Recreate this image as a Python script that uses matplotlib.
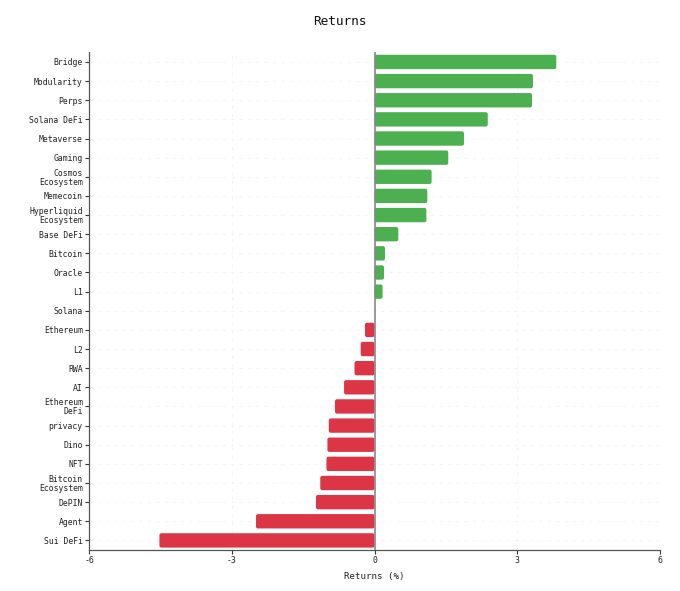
import matplotlib
matplotlib.use("Agg")
import matplotlib.pyplot as plt
from matplotlib.patches import FancyBboxPatch
import numpy as np

categories = ["Bridge", "Modularity", "Perps", "Solana DeFi", "Metaverse", "Gaming",
              "Cosmos\nEcosystem", "Memecoin", "Hyperliquid\nEcosystem", "Base DeFi",
              "Bitcoin", "Oracle", "L1", "Solana", "Ethereum", "L2", "RWA", "AI",
              "Ethereum\nDeFi", "privacy", "Dino", "NFT", "Bitcoin\nEcosystem", "DePIN",
              "Agent", "Sui DeFi"]
returns = [3.82, 3.33, 3.31, 2.38, 1.88, 1.55, 1.20, 1.11, 1.09, 0.50, 0.22, 0.20, 0.17,
           0.0, -0.20, -0.29, -0.42, -0.64, -0.83, -0.96, -0.99, -1.01, -1.14, -1.23,
           -2.49, -4.52]
x_ticks = [-6, -3, 0, 3, 6]

GREEN = "#4caf50"
RED = "#dc3545"

plt.rcParams['font.family'] = ['DejaVu Sans Mono']

fig = plt.figure(figsize=(6.8, 5.91), dpi=100)
ax = fig.add_axes([0.1309, 0.0694, 0.8397, 0.8426])

y = np.arange(len(categories))
colors = [GREEN if v >= 0 else RED for v in returns]
bars = ax.barh(y, returns, height=0.75, color=colors, zorder=3)

ax.set_ylim(len(categories) - 0.5, -0.52)
ax.set_xlim(-6, 6)

# replace bars with rounded versions (geometry from the bar patches)
fig.canvas.draw()
bb = ax.get_window_extent()
x_per_px = 12.0 / bb.width
y_per_px = (len(categories) - 0.5 + 0.52) / bb.height
for b in bars:
    x0, y0 = b.get_x(), b.get_y()
    w, h = b.get_width(), b.get_height()
    if w == 0:
        b.remove()
        continue
    if w < 0:
        x0, w = x0 + w, -w
    r = min(2.0 * x_per_px, w / 2)
    p = FancyBboxPatch((x0, y0), w, h,
                       boxstyle=f"round,pad=0,rounding_size={r}",
                       mutation_aspect=y_per_px / x_per_px,
                       facecolor=b.get_facecolor(), edgecolor="none", zorder=3)
    b.remove()
    ax.add_patch(p)

ax.set_yticks(y)
ax.set_yticklabels(categories, fontsize=5.9, linespacing=1.0, color="#222222")
ax.set_xticks(x_ticks)
ax.set_xticklabels([str(t) for t in x_ticks], fontsize=5.9, color="#222222")
ax.tick_params(axis='both', length=3, width=0.8, color="#333333", pad=1.5)

ax.axvline(0, color="#888888", lw=1.2, zorder=4)
ax.grid(True, color="#f1f1f1", lw=0.6, ls=(0, (4, 6)), zorder=0)
for s in ["top", "right"]:
    ax.spines[s].set_visible(False)
for s in ["left", "bottom"]:
    ax.spines[s].set_color("#555555")
    ax.spines[s].set_linewidth(0.9)

ax.set_xlabel("Returns (%)", fontsize=6.6, labelpad=5, color="#222222")
fig.text(0.5, 0.964, "Returns", ha="center", va="center", fontsize=9.2, color="#111111")

fig.savefig("out.png", dpi=100)
